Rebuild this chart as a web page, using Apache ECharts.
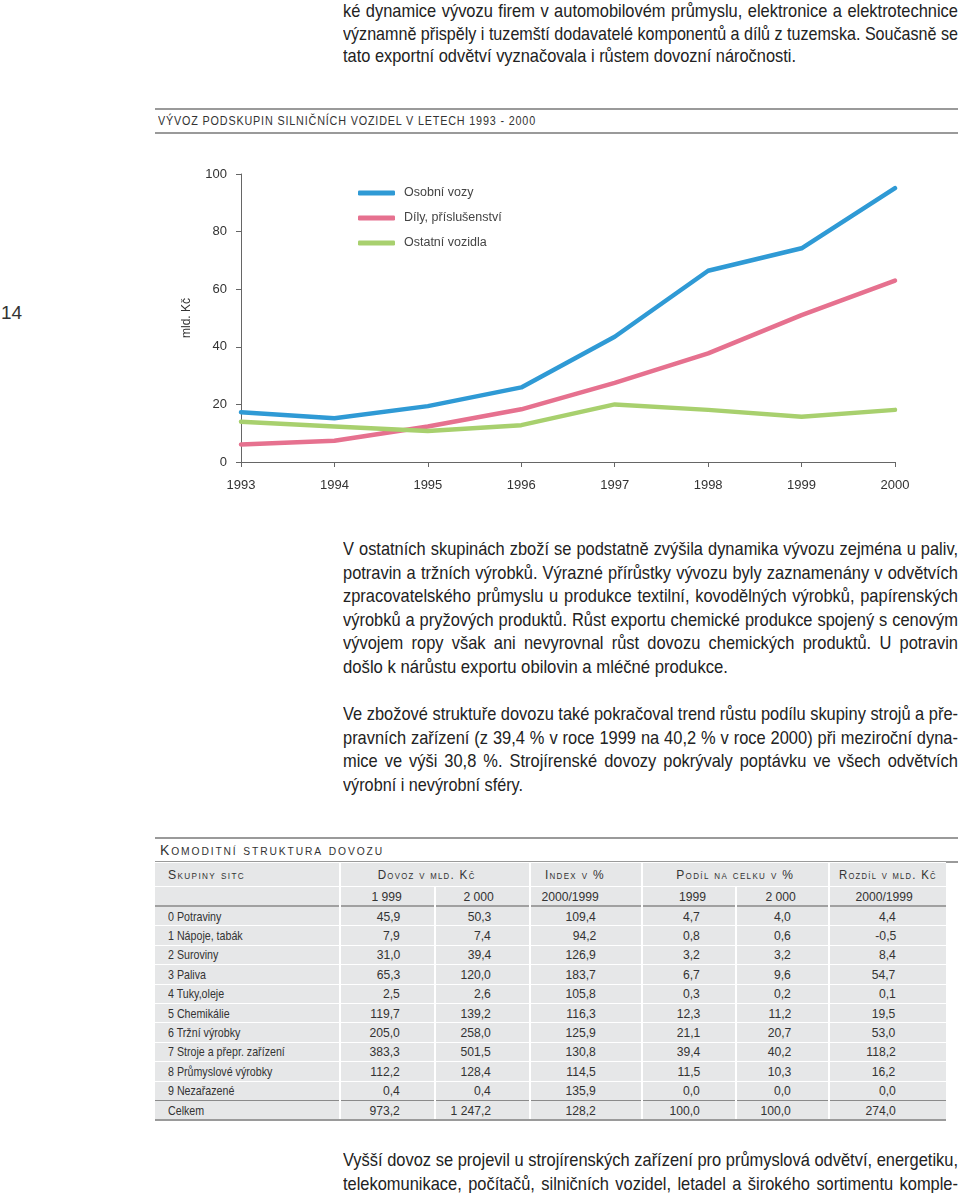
<!DOCTYPE html>
<html lang="cs">
<head>
<meta charset="utf-8">
<title>Vývoz podskupin silničních vozidel</title>
<script src="https://cdn.jsdelivr.net/npm/echarts@6/dist/echarts.min.js"></script>
<style>
  html, body { margin: 0; padding: 0; background: #fff; }
  body { width: 960px; height: 1193px; position: relative; overflow: hidden;
         font-family: "Liberation Sans", Arial, sans-serif; color: #222; }
  .para { position: absolute; left: 343px; width: 615px; font-size: 19px; }
  .ln { white-space: nowrap; transform-origin: 0 50%; text-align: left; }
  .ln.jdone { text-align: justify; text-align-last: justify; }
  #pageno { position: absolute; left: 1px; top: 302px; font-size: 19px; color: #333; }
  #ctitle { position: absolute; left: 155px; top: 108px; width: 803px; height: 22px;
            border-top: 2px solid #9a9a9a; border-bottom: 2px solid #9a9a9a; }
  #ctitle span { position: absolute; left: 3px; top: 3px; font-size: 13px; letter-spacing: 1px; color: #333; transform-origin: 0 50%; }
  #chart { position: absolute; left: 0; top: 140px; width: 960px; height: 370px; }
  #ttitle { position: absolute; left: 155px; top: 837px; width: 803px; height: 22px;
            border-top: 2px solid #9a9a9a; border-bottom: 2px solid #9a9a9a; }
  #ttitle span { position: absolute; left: 5px; top: 2px; font-size: 15px; letter-spacing: 2px;
                 font-variant: small-caps; color: #333; transform-origin: 0 50%; }
  #tbl { position: absolute; left: 155px; top: 862px; border-collapse: collapse; table-layout: fixed;
         font-size: 13.5px; color: #333; }
  #tbl td { background: #e6e7e8; padding: 0; white-space: nowrap; border-left: 2px solid #fff; border-top: 1px solid #fff; text-align: right; }
  #tbl td.nm { border-left: none; padding-left: 13px; text-align: left; }
  #tbl tr.h1 td { height: 23px; font-variant: small-caps; letter-spacing: 1.5px; font-size: 13.5px; text-align: center; }
  #tbl tr.h1 td.nm { text-align: left; }
  #tbl tr.h2 td { height: 18px; }
  #tbl tr.b td { height: 18.4px; }
  #tbl tr.b.first td { border-top: 2px solid #a0a0a0; }
  #tbl tr.b.total td { border-top: 1px solid #8a8a8a; border-bottom: 2px solid #9a9a9a; }
  #tbl span.v { display: inline-block; transform: scaleX(0.9); transform-origin: 100% 50%; }
  #tbl span.t { display: inline-block; transform: scaleX(0.79); transform-origin: 0 50%; }
  #tbl span.hc { display: inline-block; transform-origin: 50% 50%; }
  #tbl span.hl { display: inline-block; transform-origin: 0 50%; }
</style>
</head>
<body>
<div class="para" style="top:0px; line-height:22.5px;">
  <div class="ln j"><span>ké dynamice vývozu firem v automobilovém průmyslu, elektronice a elektrotechnice</span></div>
  <div class="ln j"><span>významně přispěly i tuzemští dodavatelé komponentů a dílů z tuzemska. Současně se</span></div>
  <div class="ln" data-w="453"><span>tato exportní odvětví vyznačovala i růstem dovozní náročnosti.</span></div>
</div>

<div id="ctitle"><span class="fitme" data-w="378">VÝVOZ PODSKUPIN SILNIČNÍCH VOZIDEL V LETECH 1993 - 2000</span></div>
<div id="pageno">14</div>
<div id="chart"></div>

<div class="para" style="top:537px; line-height:23.6px;">
  <div class="ln j"><span>V ostatních skupinách zboží se podstatně zvýšila dynamika vývozu zejména u paliv,</span></div>
  <div class="ln j"><span>potravin a tržních výrobků. Výrazné přírůstky vývozu byly zaznamenány v odvětvích</span></div>
  <div class="ln j"><span>zpracovatelského průmyslu u produkce textilní, kovodělných výrobků, papírenských</span></div>
  <div class="ln j"><span>výrobků a pryžových produktů. Růst exportu chemické produkce spojený s cenovým</span></div>
  <div class="ln j"><span>vývojem ropy však ani nevyrovnal růst dovozu chemických produktů. U potravin</span></div>
  <div class="ln" data-w="385"><span>došlo k nárůstu exportu obilovin a mléčné produkce.</span></div>
</div>

<div class="para" style="top:702px; line-height:23.6px;">
  <div class="ln j"><span>Ve zbožové struktuře dovozu také pokračoval trend růstu podílu skupiny strojů a pře-</span></div>
  <div class="ln j"><span>pravních zařízení (z 39,4 % v roce 1999 na 40,2 % v roce 2000) při meziroční dyna-</span></div>
  <div class="ln j"><span>mice ve výši 30,8 %. Strojírenské dovozy pokrývaly poptávku ve všech odvětvích</span></div>
  <div class="ln" data-w="180"><span>výrobní i nevýrobní sféry.</span></div>
</div>

<div id="ttitle"><span class="fitme" data-w="224">Komoditní struktura dovozu</span></div>
<table id="tbl"></table>

<div class="para" style="top:1148px; line-height:23.6px;">
  <div class="ln j"><span>Vyšší dovoz se projevil u strojírenských zařízení pro průmyslová odvětví, energetiku,</span></div>
  <div class="ln j"><span>telekomunikace, počítačů, silničních vozidel, letadel a širokého sortimentu komple-</span></div>
</div>

<script>
// ---- chart data ----
var years = ['1993', '1994', '1995', '1996', '1997', '1998', '1999', '2000'];
var seriesNames = ['Osobní vozy', 'Díly, příslušenství', 'Ostatní vozidla'];
var osobniVozy = [17.3, 15.2, 19.4, 25.9, 43.5, 66.4, 74.2, 95.1];
var dilyPrislusenstvi = [6.1, 7.4, 12.3, 18.3, 27.5, 37.7, 51.0, 63.0];
var ostatniVozidla = [14.0, 12.3, 10.8, 12.8, 20.0, 18.1, 15.7, 18.1];
var yTicks = [0, 20, 40, 60, 80, 100];

// ---- table data ----
var tableHeader1 = ['Skupiny sitc', 'Dovoz v mld. Kč', 'Index v %', 'Podíl na celku v %', 'Rozdíl v mld. Kč'];
var tableHeader2 = ['', '1 999', '2 000', '2000/1999', '1999', '2 000', '2000/1999'];
var sitcGroups = ['0 Potraviny', '1 Nápoje, tabák', '2 Suroviny', '3 Paliva', '4 Tuky,oleje', '5 Chemikálie',
                  '6 Tržní výrobky', '7 Stroje a přepr. zařízení', '8 Průmyslové výrobky', '9 Nezařazené', 'Celkem'];
var dovoz1999 = ['45,9', '7,9', '31,0', '65,3', '2,5', '119,7', '205,0', '383,3', '112,2', '0,4', '973,2'];
var dovoz2000 = ['50,3', '7,4', '39,4', '120,0', '2,6', '139,2', '258,0', '501,5', '128,4', '0,4', '1 247,2'];
var indexPct = ['109,4', '94,2', '126,9', '183,7', '105,8', '116,3', '125,9', '130,8', '114,5', '135,9', '128,2'];
var podil1999 = ['4,7', '0,8', '3,2', '6,7', '0,3', '12,3', '21,1', '39,4', '11,5', '0,0', '100,0'];
var podil2000 = ['4,0', '0,6', '3,2', '9,6', '0,2', '11,2', '20,7', '40,2', '10,3', '0,0', '100,0'];
var rozdil = ['4,4', '-0,5', '8,4', '54,7', '0,1', '19,5', '53,0', '118,2', '16,2', '0,0', '274,0'];

// ---- build table ----
(function () {
  var colW = [185, 95, 95, 112, 94, 93, 116];
  var bodyPad = [0, 34, 38, 45, 35, 37, 50];
  var h2Pad = [0, 32, 35, 42, 29, 32, 33];
  var h1W = [77, 98, 60, 118, 98];
  var t = document.getElementById('tbl');
  var html = '<colgroup>' + colW.map(function (w) { return '<col style="width:' + w + 'px">'; }).join('') + '</colgroup>';
  html += '<tr class="h1"><td class="nm"><span class="hl fitme" data-w="' + h1W[0] + '">' + tableHeader1[0] + '</span></td>' +
          '<td colspan="2" style="padding-right:16px"><span class="hc fitme" data-w="' + h1W[1] + '">' + tableHeader1[1] + '</span></td>' +
          '<td style="padding-right:22px"><span class="hc fitme" data-w="' + h1W[2] + '">' + tableHeader1[2] + '</span></td>' +
          '<td colspan="2"><span class="hc fitme" data-w="' + h1W[3] + '">' + tableHeader1[3] + '</span></td>' +
          '<td><span class="hc fitme" data-w="' + h1W[4] + '">' + tableHeader1[4] + '</span></td></tr>';
  html += '<tr class="h2">' + tableHeader2.map(function (v, i) {
    return i === 0 ? '<td class="nm"></td>' : '<td style="padding-right:' + h2Pad[i] + 'px"><span class="v">' + v + '</span></td>';
  }).join('') + '</tr>';
  for (var r = 0; r < sitcGroups.length; r++) {
    var cls = 'b' + (r === 0 ? ' first' : '') + (r === sitcGroups.length - 1 ? ' total' : '');
    var vals = [dovoz1999[r], dovoz2000[r], indexPct[r], podil1999[r], podil2000[r], rozdil[r]];
    html += '<tr class="' + cls + '"><td class="nm"><span class="t">' + sitcGroups[r] + '</span></td>' +
      vals.map(function (v, i) {
        return '<td style="padding-right:' + bodyPad[i + 1] + 'px"><span class="v">' + v + '</span></td>';
      }).join('') + '</tr>';
  }
  t.innerHTML = html;
})();

// ---- fit text blocks to reference widths (horizontal condensing) ----
(function () {
  document.querySelectorAll('.fitme').forEach(function (el) {
    var w = el.getBoundingClientRect().width;
    var target = parseFloat(el.getAttribute('data-w'));
    if (w > 0) el.style.transform = 'scaleX(' + (target / w) + ')';
  });
  var lines = Array.prototype.slice.call(document.querySelectorAll('.ln'));
  var widths = lines.map(function (l) { return l.firstElementChild.getBoundingClientRect().width; });
  var ratios = [];
  lines.forEach(function (l, i) {
    if (l.hasAttribute('data-w')) ratios.push(parseFloat(l.getAttribute('data-w')) / widths[i]);
  });
  var s0 = ratios.reduce(function (a, b) { return a + b; }, 0) / ratios.length;
  var W = 615;
  lines.forEach(function (l, i) {
    var s;
    if (l.hasAttribute('data-w')) {
      s = parseFloat(l.getAttribute('data-w')) / widths[i];
    } else {
      s = Math.min(s0, W / widths[i]);
      l.style.width = (W / s) + 'px';
      l.classList.add('jdone');
    }
    l.style.transform = 'scaleX(' + s + ')';
  });
})();

// ---- chart ----
var chart = echarts.init(document.getElementById('chart'), null, { renderer: 'canvas' });
var fontFam = '"Liberation Sans", Arial, sans-serif';
var colors = ['#2f9ad5', '#e6718f', '#a8d06e'];
var dataSets = [osobniVozy, dilyPrislusenstvi, ostatniVozidla];
chart.setOption({
  animation: false,
  color: colors,
  textStyle: { fontFamily: fontFam },
  grid: { left: 241, top: 34, width: 654, height: 288, containLabel: false },
  legend: {
    orient: 'vertical', left: 358, top: 46, padding: 0,
    icon: 'roundRect', itemWidth: 37, itemHeight: 5, itemGap: 11,
    textStyle: { fontSize: 12.5, color: '#444', fontFamily: fontFam, lineHeight: 14, padding: [0, 0, 0, 4] },
    data: seriesNames
  },
  xAxis: {
    type: 'category', data: years, boundaryGap: false,
    axisLine: { lineStyle: { color: '#666', width: 1 } },
    axisTick: { show: true, length: 5, alignWithLabel: true, lineStyle: { color: '#666' } },
    axisLabel: { color: '#333', fontSize: 13, margin: 17, fontFamily: fontFam },
    splitLine: { show: false }
  },
  yAxis: {
    type: 'value', min: yTicks[0], max: yTicks[yTicks.length - 1], interval: 20,
    name: 'mld. Kč', nameLocation: 'middle', nameGap: 48, nameRotate: 90,
    nameTextStyle: { color: '#333', fontSize: 12, fontFamily: fontFam },
    axisLine: { show: true, lineStyle: { color: '#666', width: 1 } },
    axisTick: { show: true, length: 5, lineStyle: { color: '#666' } },
    axisLabel: { color: '#333', fontSize: 13, margin: 14, fontFamily: fontFam },
    splitLine: { show: false }
  },
  series: seriesNames.map(function (n, i) {
    return {
      name: n, type: 'line', data: dataSets[i], symbol: 'none', smooth: false,
      lineStyle: { width: 4.5, color: colors[i], cap: 'round', join: 'round' },
      itemStyle: { color: colors[i] }
    };
  })
});
</script>
</body>
</html>
